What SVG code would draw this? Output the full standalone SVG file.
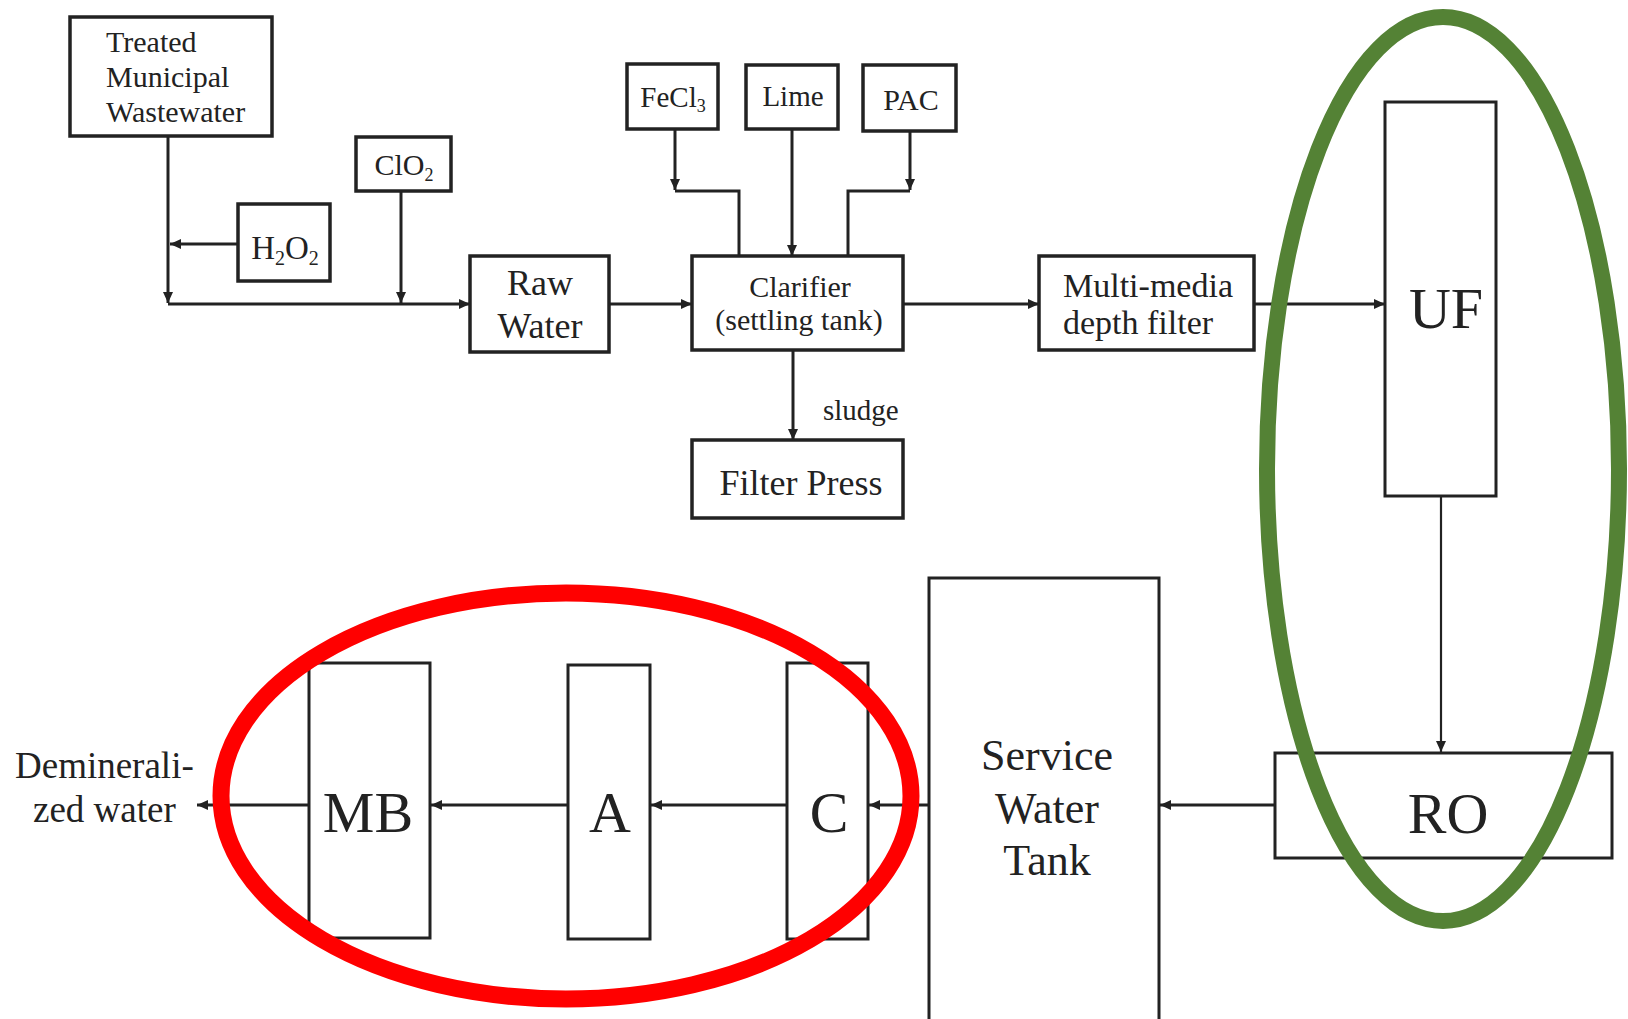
<svg xmlns="http://www.w3.org/2000/svg" width="1628" height="1019" viewBox="0 0 1628 1019">
<style>
.box{fill:#fff;stroke:#222;stroke-width:3.5}
.box2{fill:#fff;stroke:#222;stroke-width:3}
.t{font-family:"Liberation Serif","Times New Roman",serif;fill:#222}
.m{text-anchor:middle}
.ln{fill:none;stroke:#222;stroke-width:3}
.ln2{fill:none;stroke:#222;stroke-width:2.2}
</style>
<defs>
<marker id="ah" markerUnits="userSpaceOnUse" markerWidth="12" markerHeight="12" refX="11" refY="5" orient="auto">
<path d="M0,0 L11,5 L0,10 z" fill="#222"/>
</marker>
</defs>
<rect width="1628" height="1019" fill="#fff"/>
<g id="connectors">
<path class="ln" d="M168,136 V303" marker-end="url(#ah)"/>
<path class="ln" d="M238,244 H170" marker-end="url(#ah)"/>
<path class="ln" d="M401,191 V303" marker-end="url(#ah)"/>
<path class="ln" d="M168,304 H470" marker-end="url(#ah)"/>
<path class="ln" d="M609,304 H692" marker-end="url(#ah)"/>
<path class="ln" d="M675,129 V190" marker-end="url(#ah)"/>
<path class="ln" d="M675,191 H739 V256"/>
<path class="ln" d="M792,129 V256" marker-end="url(#ah)"/>
<path class="ln" d="M910,131 V190" marker-end="url(#ah)"/>
<path class="ln" d="M910,191 H848 V256"/>
<path class="ln" d="M793,350 V440" marker-end="url(#ah)"/>
<path class="ln" d="M903,304 H1039" marker-end="url(#ah)"/>
<path class="ln" d="M1254,304 H1385" marker-end="url(#ah)"/>
<path class="ln2" d="M1441,496 V752" marker-end="url(#ah)"/>
<path class="ln" d="M1275,805 H1160" marker-end="url(#ah)"/>
<path class="ln" d="M929,805 H869" marker-end="url(#ah)"/>
<path class="ln" d="M786,805 H651" marker-end="url(#ah)"/>
<path class="ln" d="M568,805 H431" marker-end="url(#ah)"/>
<path class="ln" d="M309,805 H197" marker-end="url(#ah)"/>
</g>
<g id="treated">
<rect class="box" x="70" y="17" width="202" height="119"/>
<text class="t" x="106" y="52" font-size="30">Treated</text>
<text class="t" x="106" y="87" font-size="30">Municipal</text>
<text class="t" x="106" y="122" font-size="30">Wastewater</text>
</g>
<g id="h2o2">
<rect class="box" x="238" y="204" width="92" height="77"/>
<text class="t m" x="285" y="259" font-size="33">H<tspan font-size="20" dy="6">2</tspan><tspan dy="-6">O</tspan><tspan font-size="20" dy="6">2</tspan></text>
</g>
<g id="clo2">
<rect class="box" x="356" y="137" width="95" height="54"/>
<text class="t m" x="404" y="175" font-size="30">ClO<tspan font-size="18" dy="6">2</tspan></text>
</g>
<g id="raw">
<rect class="box" x="470" y="256" width="139" height="96"/>
<text class="t m" x="540" y="295" font-size="36">Raw</text>
<text class="t m" x="540" y="338" font-size="36">Water</text>
</g>
<g id="fecl3">
<rect class="box" x="627" y="64" width="91" height="65"/>
<text class="t m" x="673" y="107" font-size="29">FeCl<tspan font-size="18" dy="5">3</tspan></text>
</g>
<g id="lime">
<rect class="box" x="746" y="65" width="92" height="64"/>
<text class="t m" x="793" y="106" font-size="29">Lime</text>
</g>
<g id="pac">
<rect class="box" x="863" y="65" width="93" height="66"/>
<text class="t m" x="911" y="110" font-size="30">PAC</text>
</g>
<g id="clarifier">
<rect class="box" x="692" y="256" width="211" height="94"/>
<text class="t m" x="800" y="297" font-size="30">Clarifier</text>
<text class="t m" x="799" y="330" font-size="30">(settling tank)</text>
</g>
<g id="sludge">
<text class="t" x="823" y="420" font-size="29">sludge</text>
</g>
<g id="filterpress">
<rect class="box" x="692" y="440" width="211" height="78"/>
<text class="t m" x="801" y="495" font-size="36">Filter Press</text>
</g>
<g id="multimedia">
<rect class="box" x="1039" y="256" width="215" height="94"/>
<text class="t" x="1063" y="297" font-size="34">Multi-media</text>
<text class="t" x="1063" y="334" font-size="34">depth filter</text>
</g>
<g id="uf">
<rect class="box2" x="1385" y="102" width="111" height="394"/>
<text class="t m" x="1446" y="328" font-size="58">UF</text>
</g>
<g id="ro">
<rect class="box2" x="1275" y="753" width="337" height="105"/>
<text class="t m" x="1448" y="833" font-size="58">RO</text>
</g>
<g id="tank">
<path class="box2" d="M929,1025 V578 H1159 V1025"/>
<text class="t m" x="1047" y="770" font-size="44">Service</text>
<text class="t m" x="1047" y="823" font-size="44">Water</text>
<text class="t m" x="1047" y="875" font-size="44">Tank</text>
</g>
<g id="c">
<rect class="box2" x="787" y="663" width="81" height="276"/>
<text class="t m" x="829" y="832" font-size="58">C</text>
</g>
<g id="a">
<rect class="box2" x="568" y="665" width="82" height="274"/>
<text class="t m" x="610" y="832" font-size="58">A</text>
</g>
<g id="mb">
<rect class="box2" x="309" y="663" width="121" height="275"/>
<text class="t m" x="368" y="832" font-size="58">MB</text>
</g>
<g id="output">
<text class="t" x="15" y="778" font-size="37">Deminerali-</text>
<text class="t" x="33" y="822" font-size="37">zed water</text>
</g>
<g id="highlights">
<ellipse cx="1443" cy="469" rx="176" ry="452" fill="none" stroke="#548235" stroke-width="16"/>
<ellipse cx="566" cy="796" rx="345" ry="203" fill="none" stroke="#ff0000" stroke-width="17"/>
</g>
</svg>
